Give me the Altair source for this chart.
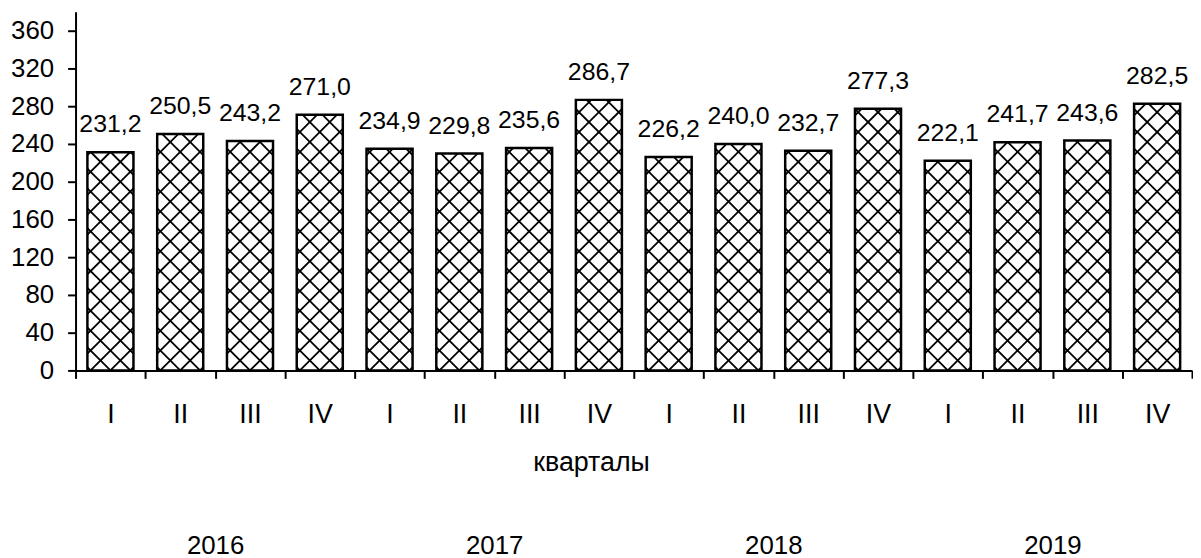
import json
import altair as alt
import numpy as np
import pandas as pd

# ---- data ----
quarters = ["I", "II", "III", "IV"] * 4
years = ["2016", "2017", "2018", "2019"]
values = [231.2, 250.5, 243.2, 271.0,
          234.9, 229.8, 235.6, 286.7,
          226.2, 240.0, 232.7, 277.3,
          222.1, 241.7, 243.6, 282.5]

# ---- layout constants ----
W, H = 1124, 361
YMAX = 380
FONT = "Liberation Sans"
n = len(values)
kx = W / n          # px per x unit
ky = H / YMAX       # px per y unit
HALF = 0.33         # bar half width (x units)
P = 20.0            # hatch period in px

idx = np.arange(n)
bars = pd.DataFrame({
    "i": idx,
    "x0": idx - HALF,
    "x1": idx + HALF,
    "v": values,
    "zero": [0.0] * n,
    "label": [f"{v:.1f}".replace(".", ",") for v in values],
})

# diagonal cross-hatch segments clipped to each bar (derived from the values)
segs = []
hw = HALF * kx
for i, v in enumerate(values):
    h = v * ky
    kmin = int(np.floor(-hw / P)) - 2
    kmax = int(np.ceil((h + hw) / P)) + 2
    for k in range(kmin, kmax + 1):
        c = k * P
        lo, hi = max(-hw, -c), min(hw, h - c)          # y = x + c
        if hi - lo > 0.5:
            segs.append((i + lo / kx, (lo + c) / ky, i + hi / kx, (hi + c) / ky))
        lo, hi = max(-hw, c - h), min(hw, c)           # y = c - x
        if hi - lo > 0.5:
            segs.append((i + lo / kx, (c - lo) / ky, i + hi / kx, (c - hi) / ky))
hatch = pd.DataFrame(segs, columns=["xa", "ya", "xb", "yb"])

xscale = alt.Scale(domain=[-0.5, n - 0.5], nice=False, zero=False)
yscale = alt.Scale(domain=[0, YMAX], nice=False)

tick_vals = [i - 0.5 for i in range(n + 1)] + list(range(n))
q_axis = alt.Axis(
    orient="bottom",
    values=tick_vals,
    labelExpr="datum.value % 1 == 0 ? " + json.dumps(quarters) + "[datum.value] : ''",
    domainColor="black", domainWidth=2,
    tickColor="black", tickWidth=2, tickSize=8,
    tickOpacity={"condition": {"test": "datum.value % 1 == 0", "value": 0}, "value": 1},
    labelFont=FONT, labelFontSize=27, labelColor="black",
    labelBaseline="alphabetic", labelPadding=44,
    labelOverlap=False, labelFlush=False,
    grid=False,
    title="кварталы", titleFont=FONT, titleFontSize=27, titleFontWeight="normal",
    titleColor="black", titleX=519, titleY=101, titleBaseline="alphabetic",
    titleAlign="center",
)
year_axis = alt.Axis(
    orient="bottom",
    values=[1.5, 5.5, 9.5, 13.5],
    labelExpr=json.dumps(years) + "[floor(datum.value / 4)]",
    domain=False, ticks=False, tickSize=0,
    labelFont=FONT, labelFontSize=26, labelColor="black",
    labelBaseline="alphabetic", labelPadding=184,
    labelOverlap=False, labelFlush=False,
    grid=False, title=None,
)
y_axis = alt.Axis(
    values=list(range(0, 361, 40)),
    domainColor="black", domainWidth=2,
    tickColor="black", tickWidth=2, tickSize=8,
    labelFont=FONT, labelFontSize=26, labelColor="black", labelPadding=14,
    grid=False, title=None, minExtent=68, maxExtent=68,
)

base = alt.Chart(bars)

fill = base.mark_rect(fill="white", strokeWidth=0).encode(
    x=alt.X("x0:Q", scale=xscale, axis=q_axis),
    x2="x1:Q",
    y=alt.Y("v:Q", scale=yscale, axis=y_axis),
    y2="zero:Q",
)

pattern = alt.Chart(hatch).mark_rule(color="black", strokeWidth=1.8).encode(
    x=alt.X("xa:Q", scale=xscale, axis=None),
    x2="xb:Q",
    y=alt.Y("ya:Q", scale=yscale, axis=y_axis),
    y2="yb:Q",
)

outline = base.mark_rect(fill="white", fillOpacity=0, stroke="black", strokeWidth=2.5).encode(
    x=alt.X("x0:Q", scale=xscale, axis=None),
    x2="x1:Q",
    y=alt.Y("v:Q", scale=yscale, axis=y_axis),
    y2="zero:Q",
)

text = base.mark_text(font=FONT, fontSize=25, color="black", baseline="alphabetic", dy=-20).encode(
    x=alt.X("i:Q", scale=xscale, axis=year_axis),
    y=alt.Y("v:Q", scale=yscale, axis=y_axis),
    text="label:N",
)

chart = (
    alt.layer(fill, pattern, outline, text)
    .resolve_axis(x="independent")
    .properties(width=W, height=H,
                padding={"left": 0, "top": 2, "right": 0, "bottom": 0},
                background="white")
    .configure_view(stroke=None)
)

chart.save("out.html", embed_options={"renderer": "svg", "actions": False})
